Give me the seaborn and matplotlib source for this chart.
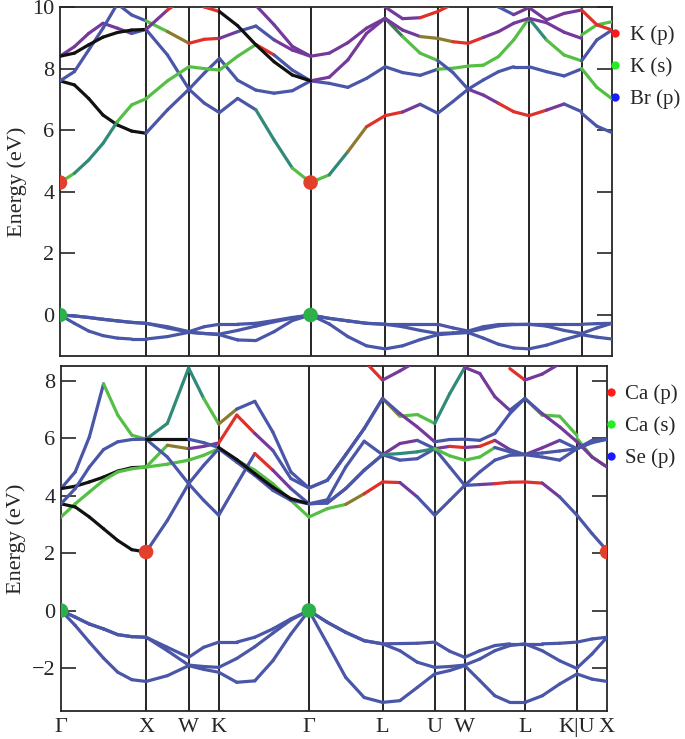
"""
plot.py
    Projected band structures of KBr (top) and CaSe (bottom) along the fcc path
"""
import numpy as np
import pandas as pd
import seaborn as sns
import matplotlib.pyplot as plt
from matplotlib.collections import LineCollection
from matplotlib.lines import Line2D

N = np.nan

# k-path (units of 2pi/a) and labels
TICK_POS = [0.0, 1.0, 1.5, 1.854, 2.914, 3.780, 4.393, 4.746, 5.453, 6.066, 6.419]
TICK_LABELS = ['Γ', 'X', 'W', 'K', 'Γ', 'L', 'U', 'W', 'L', 'K|U', 'X']
K_GRID = [0.0, 0.167, 0.333, 0.5, 0.667, 0.833, 1.0, 1.25, 1.5, 1.677, 1.854,
          2.066, 2.278, 2.490, 2.702, 2.914, 3.131, 3.347, 3.564, 3.780,
          3.984, 4.188, 4.393, 4.570, 4.746, 4.923, 5.100, 5.276, 5.453,
          5.657, 5.862, 6.066, 6.066, 6.243, 6.419]

# colour codes per interval: b Br/Se(p), g K/Ca(s), r K/Ca(p), k other, mixtures
PALETTE = {'b': '#4a56a8', 'g': '#55bf45', 'r': '#e0302a', 'k': '#111111',
           'p': '#74399b', 'o': '#8c7a2e', 't': '#2f8a78', 'd': '#3d7d4f'}

# ---------------- KBr ----------------
TC1 = [8.4, 8.71, 9.14, 9.47, 9.31, 9.14, 9.27, 8.44, 7.33, 6.88, 6.57, 7.03, 6.66, 5.68, 4.77, 4.3,
       4.55, 5.3, 6.11, 6.47, 6.59, 6.84, 6.55, 6.93, 7.33, 7.14, 6.87, 6.6, 6.47, 6.65, 6.85, 6.6,
       6.55, 6.13, 5.92]
TC1_C = "pppppb" + "bbbb" + "bbttg" + "gtorrpbbbpprrrpb" + "-" + "bb"
TC2 = [7.6, 7.47, 7.03, 6.49, 6.17, 5.97, 5.9, 6.66, 7.33, 7.85, 8.33, 7.62, 7.3, 7.2, 7.28, 7.6,
       7.52, 7.39, 7.68, 8.06, 7.87, 7.78, 7.98, 8.01, 8.08, 8.11, 8.39, 8.93, 9.63, 8.93, 8.44, 8.25,
       8.25, 8.93, 9.25]
TC2_C = "kkkkkk" + "bbbb" + "bbbbb" + "bbbbbbbggggggtgg" + "-" + "bb"
TC3 = [4.3, 4.6, 5.03, 5.57, 6.28, 6.82, 7.02, 7.6, 8.06, 8.0, 7.95, 8.4, 8.78, 8.44, 7.95, 7.6,
       7.72, 8.28, 9.14, 9.63, 9.04, 8.5, 8.26, 7.87, 7.33, 7.63, 7.9, 8.06, 8.06, 7.9, 7.76, 7.99,
       8.0, 7.39, 7.02]
TC3_C = "gtttgggggg" + "ggrbb" + "ppppdggbbbbbbbbb" + "-" + "gg"
TC4 = [7.6, 7.9, 8.6, 9.31, 10.1, 9.74, 9.55, 9.2, 8.82, 8.95, 8.98, 9.2, 9.38, 8.93, 8.6, 8.4,
       8.5, 8.84, 9.31, 9.63, 9.25, 9.04, 8.98, 8.87, 8.82, 9.01, 9.2, 9.47, 9.63, 9.49, 9.18, 8.98,
       9.09, 9.42, 9.52]
TC4_C = "bbbbbbgorrpbbpp" + "ppppppoorrpppppp" + "-" + "gg"
TC5 = [8.4, 8.5, 8.77, 9.02, 9.17, 9.25, 9.27, 9.9, 10.4, 10.0, 9.85, 9.39, 8.77, 8.22, 7.79, 7.6] + [N] * 19
TC5_C = "kkkkkk" + "prrr" + "kkkkk" + "-" * 19
TC6 = [N] * 11 + [10.4, 10.05, 9.42, 8.72, 8.4, N, 10.6, 10.2, 10.0, 9.62, 9.65, 9.85, 10.1, 10.4,
                  10.3, 10.0, 9.75, 9.98, 9.58, 9.79, 9.9, 9.9, 9.42, 9.25]
TC6_C = "-" * 11 + "pppp" + "--rrpprrrbbbpppp" + "-" + "rr"
TV1 = [0, -0.03, -0.08, -0.14, -0.19, -0.24, -0.27, -0.38, -0.54, -0.38, -0.3, -0.3, -0.27, -0.18,
       -0.08, 0, -0.11, -0.19, -0.27, -0.3, -0.3, -0.3, -0.3, -0.42, -0.52, -0.38, -0.31, -0.3, -0.3,
       -0.3, -0.3, -0.3, -0.3, -0.28, -0.27]
TV2 = [0, -0.03, -0.08, -0.14, -0.19, -0.24, -0.27, -0.42, -0.56, -0.6, -0.62, -0.5, -0.36, -0.22,
       -0.1, 0, -0.11, -0.19, -0.27, -0.3, -0.38, -0.5, -0.6, -0.58, -0.55, -0.45, -0.35, -0.31, -0.3,
       -0.36, -0.5, -0.6, -0.6, -0.42, -0.27]
TV3 = [0, -0.27, -0.52, -0.67, -0.75, -0.78, -0.78, -0.7, -0.56, -0.6, -0.64, -0.81, -0.83, -0.54,
       -0.18, 0, -0.29, -0.7, -1.0, -1.1, -1.0, -0.8, -0.64, -0.6, -0.57, -0.75, -0.95, -1.07, -1.1,
       -0.98, -0.8, -0.64, -0.64, -0.72, -0.78]
VB_C = "b" * 31 + "-" + "bb"

# ---------------- CaSe ----------------
BCA = [4.25, 4.83, 6.05, 7.9, 6.81, 6.11, 5.97, 6.52, 8.45, 7.39, 6.5, 7.02, 7.29, 6.22, 4.83, 4.27,
       4.54, 5.43, 6.34, 7.39, 6.77, 6.83, 6.52, 7.56, 8.47, 8.26, 7.45, 6.98, 7.39, 6.81, 6.77, 6.1,
       6.0, 5.35, 5.0]
BCA_C = "bbbggg" + "tttg" + "obbbb" + "bbbboggttpppbogg" + "-" + "gg"
BCB = [4.25, 4.33, 4.48, 4.65, 4.86, 4.98, 5.0, 5.76, 5.64, 5.72, 5.84, 6.81, 6.17, 5.58, 4.6, 4.27,
       4.54, 5.43, 6.34, 7.39, 6.86, 6.4, 5.88, 5.96, 5.97, 5.93, 6.17, 6.86, 7.39, 6.86, 6.4, 5.88,
       5.64, 5.88, 5.97]
BCB_C = "kkkkkkgopprrpbb" + "bbbbbppbbbbbbbpp" + "-" + "bb"
BCC = [3.26, 3.72, 4.13, 4.54, 4.83, 4.94, 5.0, 5.1, 5.24, 5.41, 5.64, 5.24, 4.89, 4.42, 3.84, 3.26,
       3.55, 3.7, 4.07, 4.48, 4.46, 3.96, 3.32, 3.84, 4.36, 4.39, 4.42, 4.47, 4.48, 4.44, 3.96, 3.32,
       3.32, 2.68, 2.09]
BCC_C = "g" * 15 + "ggorrpbbbbprrrpb" + "-" + "bb"
BCD = [3.72, 3.61, 3.26, 2.85, 2.44, 2.12, 2.04, 3.14, 4.42, 5.06, 5.64, 5.17, 4.71, 4.19, 3.84, 3.72,
       3.86, 5.0, 5.9, 5.43, 5.82, 5.93, 5.64, 5.72, 5.68, 5.72, 5.93, 5.61, 5.43, 5.67, 5.93, 5.64,
       5.88, 5.35, 5.0]
BCD_C = "kkkkkk" + "bbbb" + "bbbbb" + "bbbbppbprprpbppb" + "-" + "pp"
BCE = [3.72, 4.25, 5.0, 5.61, 5.88, 5.96, 5.97, 5.35, 4.42, 3.84, 3.32, 4.4, 5.47, 4.89, 4.25, 3.72,
       3.75, 4.25, 4.89, 5.43, 5.24, 5.29, 5.64, 5.0, 4.36, 4.83, 5.24, 5.41, 5.43, 5.35, 5.24, 5.64,
       5.64, 5.93, 5.97]
BCE_C = "bbbbbb" + "bbbb" + "bbrpb" + "b" * 16 + "-" + "bb"
BCF = [N] * 6 + [5.97, 5.97, 5.97, 5.85, 5.68, 5.26, 4.77, 4.3, 3.9, 3.72, 3.75, 4.25, 4.89, 5.43,
                 5.47, 5.53, 5.64, 5.39, 5.24, 5.35, 5.68, 5.53, 5.43, 5.49, 5.56, 5.64, 5.64, 5.85, 5.97]
BCF_C = "------" + "kkbb" + "kkkkk" + "bbbbtttggggbbbbb" + "-" + "bb"
BT1 = [N] * 18 + [8.7, 8.03, 8.35, 8.7] + [N] * 13
BT1_C = "-" * 18 + "rpp" + "-" * 13
BT2 = [N] * 27 + [8.43, 8.03, 8.24, 8.6] + [N] * 4
BT2_C = "-" * 27 + "rpp" + "-" * 4
BV1 = [0, -0.23, -0.47, -0.64, -0.84, -0.91, -0.93, -1.28, -1.63, -1.28, -1.1, -1.1, -0.93, -0.64,
       -0.29, 0, -0.41, -0.76, -1.05, -1.16, -1.15, -1.14, -1.1, -1.42, -1.63, -1.4, -1.22, -1.16,
       -1.16, -1.16, -1.14, -1.1, -1.1, -0.99, -0.93]
BV2 = [0, -0.23, -0.47, -0.64, -0.84, -0.91, -0.93, -1.4, -1.9, -1.95, -1.98, -1.67, -1.26, -0.79,
       -0.33, 0, -0.41, -0.76, -1.05, -1.16, -1.4, -1.8, -1.98, -1.95, -1.9, -1.69, -1.4, -1.22,
       -1.16, -1.4, -1.75, -2.02, -2.0, -1.51, -0.93]
BV3 = [0, -0.52, -1.1, -1.66, -2.15, -2.41, -2.47, -2.27, -1.92, -2.05, -2.15, -2.5, -2.45, -1.75,
       -0.82, 0, -1.16, -2.33, -3.03, -3.2, -3.14, -2.68, -2.21, -2.09, -1.92, -2.44, -2.97, -3.2,
       -3.2, -2.97, -2.56, -2.21, -2.21, -2.39, -2.47]

# projection dots (k, E, orbital)
DOTS_TOP_K = [0.0, 2.914, 0.0, 2.914]
DOTS_TOP_E = [4.3, 4.3, 0.0, 0.0]
DOTS_TOP_O = ['p', 'p', 's', 's']
DOTS_BOT_K = [1.0, 6.419, 0.0, 2.914]
DOTS_BOT_E = [2.04, 2.04, 0.0, 0.0]
DOTS_BOT_O = ['p', 'p', 's', 's']

LEGEND_TOP = ['K (p)', 'K (s)', 'Br (p)']
LEGEND_BOT = ['Ca (p)', 'Ca (s)', 'Se (p)']
LEGEND_COLORS = ['#ff1a1a', '#22ee22', '#1a1aff']

sns.set_style('ticks')
plt.rcParams['font.family'] = ['Liberation Serif', 'DejaVu Serif']
plt.rcParams['axes.linewidth'] = 1.3


def draw_band(ax, energies, codes):
    k = np.array(K_GRID)
    e = np.array(energies, dtype=float)
    segs, cols = [], []
    for i, c in enumerate(codes):
        if c == '-' or np.isnan(e[i]) or np.isnan(e[i + 1]) or k[i] == k[i + 1]:
            continue
        segs.append([(k[i], e[i]), (k[i + 1], e[i + 1])])
        cols.append(PALETTE[c])
    lc = LineCollection(segs, colors=cols, linewidths=2.3, capstyle='round',
                        joinstyle='round', zorder=3)
    ax.add_collection(lc)


def style_axis(ax, ylim, yticks, labels, show_x):
    ax.set_xlim(0, K_GRID[-1])
    ax.set_ylim(*ylim)
    for p in TICK_POS[1:-1]:
        ax.axvline(p, color='black', lw=1.2, zorder=2)
    ax.set_yticks(yticks)
    ax.set_xticks(TICK_POS)
    ax.set_xticklabels(TICK_LABELS if show_x else [])
    ax.tick_params(axis='y', direction='in', length=11, width=1.2, left=True, right=True,
                   labelsize=16, pad=4)
    ax.tick_params(axis='x', length=0, labelsize=16, pad=5)
    ax.set_ylabel('Energy (eV)', fontsize=16, labelpad=4)
    ax.set_xlabel('')
    handles = [Line2D([], [], marker='o', linestyle='', markersize=6, markerfacecolor=c,
                      markeredgewidth=0) for c in LEGEND_COLORS]
    ax.legend(handles, labels, loc='upper left', bbox_to_anchor=(0.995, 0.947), frameon=False,
              fontsize=15, handlelength=0.6, handletextpad=0.4, labelspacing=0.6,
              borderaxespad=0, borderpad=0)


fig = plt.figure(figsize=(6.85, 7.39), dpi=100)
ax_top = fig.add_axes([0.0876, 0.5183, 0.8058, 0.4723])
ax_bot = fig.add_axes([0.0891, 0.0379, 0.7971, 0.4668])

for band, codes in [(TV1, VB_C), (TV2, VB_C), (TV3, VB_C), (TC1, TC1_C), (TC2, TC2_C),
                    (TC3, TC3_C), (TC4, TC4_C), (TC5, TC5_C), (TC6, TC6_C)]:
    draw_band(ax_top, band, codes)
for band, codes in [(BV1, VB_C), (BV2, VB_C), (BV3, VB_C), (BCA, BCA_C), (BCB, BCB_C),
                    (BCC, BCC_C), (BCD, BCD_C), (BCE, BCE_C), (BCF, BCF_C), (BT1, BT1_C),
                    (BT2, BT2_C)]:
    draw_band(ax_bot, band, codes)

dot_pal = {'p': '#e2402c', 's': '#2bb04a'}
top_dots = pd.DataFrame({'k': DOTS_TOP_K, 'E': DOTS_TOP_E, 'orb': DOTS_TOP_O})
bot_dots = pd.DataFrame({'k': DOTS_BOT_K, 'E': DOTS_BOT_E, 'orb': DOTS_BOT_O})
sns.scatterplot(data=top_dots, x='k', y='E', hue='orb', palette=dot_pal, s=110, linewidth=0,
                legend=False, ax=ax_top, zorder=5)
sns.scatterplot(data=bot_dots, x='k', y='E', hue='orb', palette=dot_pal, s=110, linewidth=0,
                legend=False, ax=ax_bot, zorder=5)

style_axis(ax_top, (-1.33, 10.0), [0, 2, 4, 6, 8, 10], LEGEND_TOP, False)
style_axis(ax_bot, (-3.5, 8.52), [-2, 0, 2, 4, 6, 8], LEGEND_BOT, True)

fig.savefig('out.png', dpi=100)
